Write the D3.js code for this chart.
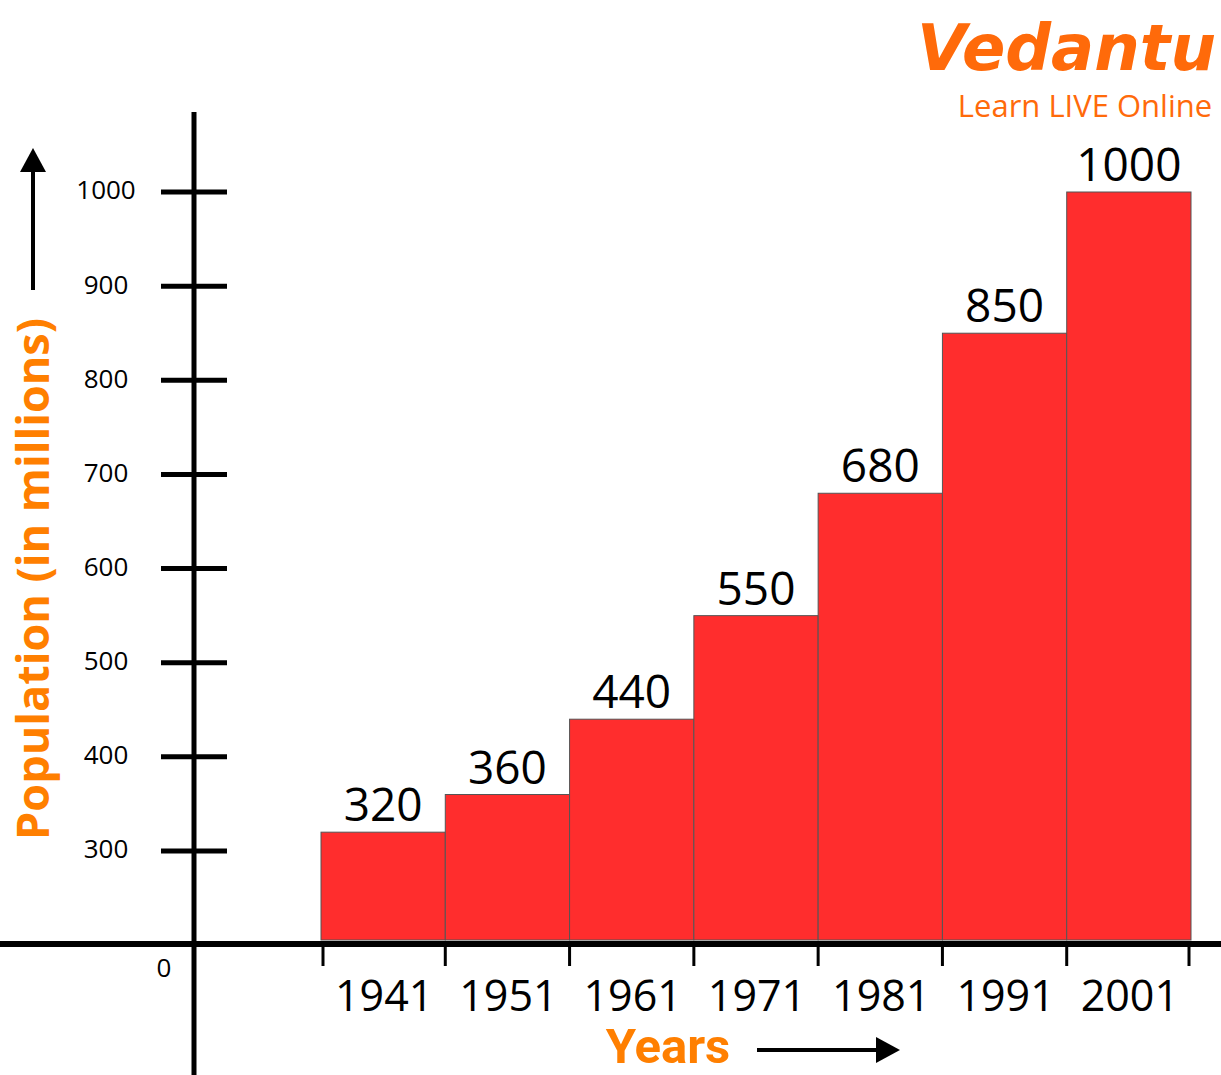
<!DOCTYPE html>
<html>
<head>
<meta charset="utf-8">
<script src="https://cdn.jsdelivr.net/npm/d3@7"></script>
<style>
  html, body { margin: 0; padding: 0; background: #fff; }
  svg { display: block; }
</style>
</head>
<body>
<svg id="chart" width="1221" height="1075"></svg>
<script>
const years = ["1941", "1951", "1961", "1971", "1981", "1991", "2001"];
const population = [320, 360, 440, 550, 680, 850, 1000];
const yTicks = [300, 400, 500, 600, 700, 800, 900, 1000];
const zeroLabel = "0";
const yTitle = "Population (in millions)";
const xTitle = "Years";
const brand = "Vedantu";
const brandTagline = "Learn LIVE Online";

const svg = d3.select("#chart");
const orange = "#ff7f00";
const brandOrange = "#ff6a0a";

// Broken axis: 0 at baseline, 300..1000 linear above
const y = d3.scaleLinear().domain([0, 300, 1000]).range([943, 851, 192]);
const x = d3.scaleBand().domain(years).range([321, 1191]).padding(0);
const axisX = 194;

// Bars
svg.append("g").selectAll("rect")
  .data(years.map((yr, i) => ({ yr, v: population[i] })))
  .join("rect")
  .attr("x", d => x(d.yr))
  .attr("y", d => y(d.v))
  .attr("width", x.bandwidth())
  .attr("height", d => y(0) - 3 - y(d.v))
  .attr("fill", "#ff2d2d")
  .attr("stroke", "#555")
  .attr("stroke-width", 1);

// Bar value labels
svg.append("g").selectAll("text")
  .data(years.map((yr, i) => ({ yr, v: population[i] })))
  .join("text")
  .attr("x", d => x(d.yr) + x.bandwidth() / 2)
  .attr("y", d => y(d.v) - 11)
  .attr("text-anchor", "middle")
  .attr("font-family", "'Open Sans', 'Noto Sans', sans-serif")
  .attr("font-size", 46)
  .attr("fill", "#000")
  .text(d => d.v);

// X axis line
svg.append("line")
  .attr("x1", 0).attr("x2", 1221)
  .attr("y1", y(0) + 1).attr("y2", y(0) + 1)
  .attr("stroke", "#000").attr("stroke-width", 6);

// Y axis line
svg.append("line")
  .attr("x1", axisX).attr("x2", axisX)
  .attr("y1", 112).attr("y2", 1075)
  .attr("stroke", "#000").attr("stroke-width", 5);

// Y ticks
const yt = svg.append("g");
yt.selectAll("line").data(yTicks).join("line")
  .attr("x1", 161).attr("x2", 227)
  .attr("y1", d => y(d)).attr("y2", d => y(d))
  .attr("stroke", "#000").attr("stroke-width", 5);
yt.selectAll("text").data(yTicks).join("text")
  .attr("x", 106)
  .attr("y", d => y(d) - 2)
  .attr("dy", "0.36em")
  .attr("text-anchor", "middle")
  .attr("font-family", "'Open Sans', 'Noto Sans', sans-serif")
  .attr("font-size", 26)
  .attr("fill", "#000")
  .text(d => d);

svg.append("text")
  .attr("x", 164).attr("y", 968)
  .attr("dy", "0.36em")
  .attr("text-anchor", "middle")
  .attr("font-family", "'Open Sans', 'Noto Sans', sans-serif")
  .attr("font-size", 26)
  .text(zeroLabel);

// X ticks at band boundaries
const bounds = years.map(yr => x(yr)).concat([x(years[years.length - 1]) + x.bandwidth()]);
svg.append("g").selectAll("line").data(bounds).join("line")
  .attr("x1", (d, i) => i === 0 ? d + 2 : (i === bounds.length - 1 ? d - 2 : d))
  .attr("x2", (d, i) => i === 0 ? d + 2 : (i === bounds.length - 1 ? d - 2 : d))
  .attr("y1", y(0) + 3).attr("y2", 966)
  .attr("stroke", "#000").attr("stroke-width", 3);

// Year labels
svg.append("g").selectAll("text").data(years).join("text")
  .attr("x", d => x(d) + x.bandwidth() / 2 + 1)
  .attr("y", 1011)
  .attr("text-anchor", "middle")
  .attr("font-family", "'Open Sans', 'Noto Sans', sans-serif")
  .attr("font-size", 43)
  .attr("fill", "#000")
  .text(d => d);

// X title + arrow
svg.append("text")
  .attr("x", 668).attr("y", 1063)
  .attr("text-anchor", "middle")
  .attr("font-family", "Roboto, 'Open Sans', sans-serif")
  .attr("font-weight", 700)
  .attr("font-size", 49)
  .attr("fill", orange)
  .text(xTitle);
svg.append("line")
  .attr("x1", 757).attr("x2", 880)
  .attr("y1", 1050).attr("y2", 1050)
  .attr("stroke", "#000").attr("stroke-width", 4);
svg.append("path")
  .attr("d", d3.line()([[900, 1050], [876, 1037], [876, 1063]]) + "Z")
  .attr("fill", "#000");

// Y title + arrow
svg.append("text")
  .attr("transform", "translate(49,579) rotate(-90)")
  .attr("text-anchor", "middle")
  .attr("font-family", "'Open Sans', 'Noto Sans', sans-serif")
  .attr("font-weight", 700)
  .attr("font-size", 45)
  .attr("fill", orange)
  .text(yTitle);
svg.append("line")
  .attr("x1", 33).attr("x2", 33)
  .attr("y1", 290).attr("y2", 168)
  .attr("stroke", "#000").attr("stroke-width", 4);
svg.append("path")
  .attr("d", d3.line()([[33, 148], [20, 172], [46, 172]]) + "Z")
  .attr("fill", "#000");

// Brand
svg.append("text")
  .attr("x", 1216).attr("y", 70)
  .attr("text-anchor", "end")
  .attr("font-family", "'DejaVu Sans', sans-serif")
  .attr("font-style", "italic")
  .attr("font-weight", 700)
  .attr("font-size", 64)
  .attr("fill", brandOrange)
  .text(brand);
svg.append("text")
  .attr("x", 1085).attr("y", 117)
  .attr("text-anchor", "middle")
  .attr("font-family", "'Open Sans', 'Noto Sans', sans-serif")
  .attr("font-size", 31)
  .attr("fill", brandOrange)
  .text(brandTagline);
</script>
</body>
</html>
